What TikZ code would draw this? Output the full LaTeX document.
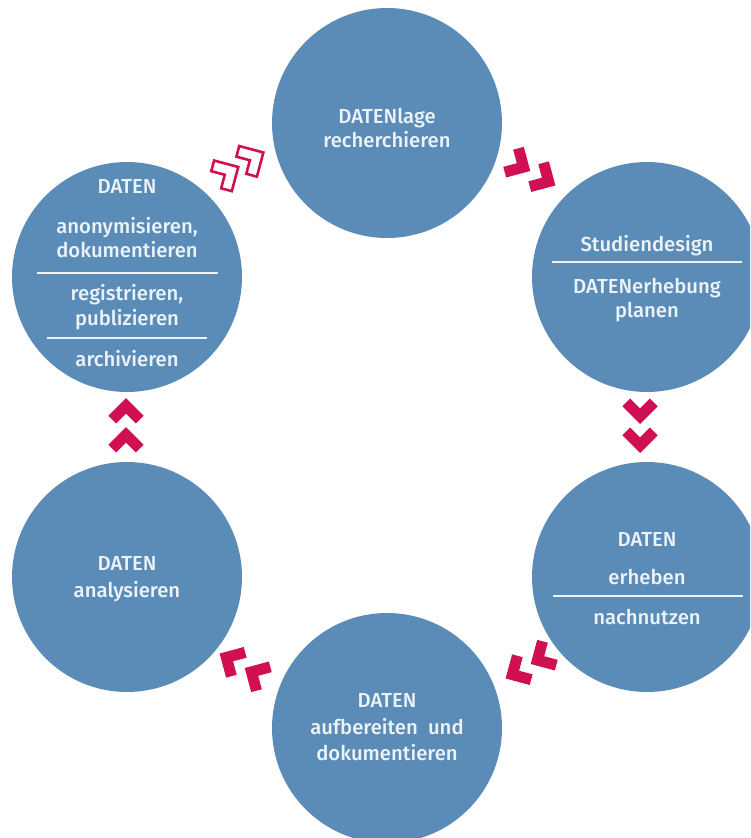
\documentclass[tikz,border=0pt]{standalone}
\usepackage{fontspec}
\setmainfont{Fira Sans}[UprightFont=* Medium]
\usetikzlibrary{calc}
\definecolor{circblue}{RGB}{91,140,184}
\definecolor{chevred}{RGB}{208,16,82}
\definecolor{txtwhite}{RGB}{236,243,248}
\tikzset{
  stage/.style={circle, fill=circblue, minimum size=230pt, inner sep=0pt, draw=none},
  txt/.style={text=txtwhite, font=\fontsize{20.3}{24}\selectfont, inner sep=0pt, anchor=base},
  divider/.style={draw=txtwhite, line width=2pt},
  chevfill/.style={fill=chevred, draw=none},
  chevline/.style={draw=chevred, fill=white, line width=2.6pt, line join=miter}
}
% chevron: outer arm 25, thickness 11, centred, tip towards +x
\newcommand{\chevshape}[2]{%
  \path[#1, shift={(#2,0)}] (12.5,0) -- (-5.18,17.68) -- (-12.96,9.9) -- (-3.06,0) -- (-12.96,-9.9) -- (-5.18,-17.68) -- cycle;}
\newcommand{\chevpair}[4]{%
  \begin{scope}[shift={(#1,#2)}, rotate=#3]
    \chevshape{#4}{-14.5}
    \chevshape{#4}{14.5}
  \end{scope}}
\begin{document}
\begin{tikzpicture}[x=1pt,y=-1pt]
\useasboundingbox (0,0) rectangle (750,838);
\clip (0,0) rectangle (750,838);
\fill[white] (0,0) rectangle (750,838);
% circles
\node[stage] (T)  at (387,123) {};
\node[stage] (RU) at (647,277) {};
\node[stage] (RL) at (647,577) {};
\node[stage] (B)  at (387,728) {};
\node[stage] (LL) at (127,577) {};
\node[stage] (LU) at (127,277) {};
% chevrons
\chevpair{532}{172}{-30}{chevfill}
\chevpair{640}{426}{-90}{chevfill}
\chevpair{529}{665}{-150}{chevfill}
\chevpair{243}{667}{150}{chevfill}
\chevpair{126}{425}{90}{chevfill}
\chevpair{240}{166}{30}{chevline}
% texts top
\node[txt] (t1) at (387,123) {DATENlage};
\node[txt] (t2) at (387,147) {recherchieren};
% right upper
\node[txt] (ru1) at (647,251) {Studiendesign};
\draw[divider] (552,262) -- (742,262);
\node[txt] (ru2) at (647,293) {DATENerhebung};
\node[txt] (ru3) at (647,317) {planen};
% right lower
\node[txt] (rl1) at (647,546) {DATEN};
\node[txt] (rl2) at (647,584) {erheben};
\draw[divider] (553,596) -- (743,596);
\node[txt] (rl3) at (647,624) {nachnutzen};
% bottom
\node[txt] (b1) at (387,707) {DATEN};
\node[txt] (b2) at (387,734) {aufbereiten\ \ und};
\node[txt] (b3) at (387,760) {dokumentieren};
% left lower
\node[txt] (ll1) at (127,570) {DATEN};
\node[txt] (ll2) at (127,597) {analysieren};
% left upper
\node[txt] (lu1) at (127,193) {DATEN};
\node[txt] (lu2) at (127,233) {anonymisieren,};
\node[txt] (lu3) at (127,257) {dokumentieren};
\draw[divider] (37,273) -- (218,273);
\node[txt] (lu4) at (127,300) {registrieren,};
\node[txt] (lu5) at (127,325) {publizieren};
\draw[divider] (47,338) -- (207,338);
\node[txt] (lu6) at (127,366) {archivieren};
\end{tikzpicture}
\end{document}
